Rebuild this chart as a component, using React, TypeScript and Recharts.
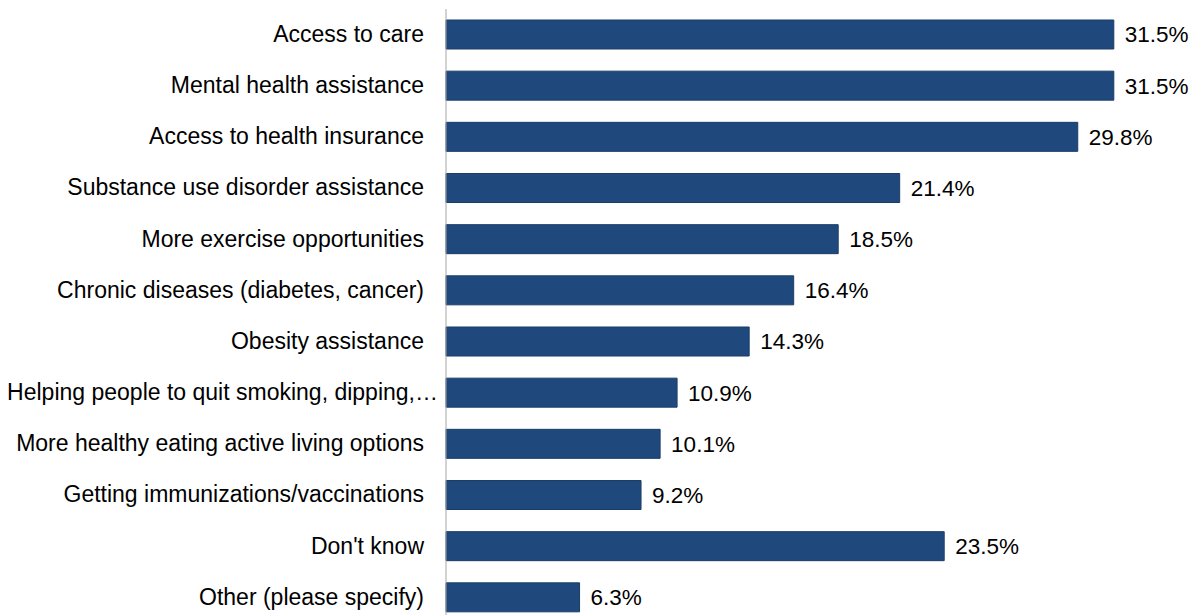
import { BarChart, Bar, XAxis, YAxis, LabelList } from "recharts";

const categories = [
  "Access to care",
  "Mental health assistance",
  "Access to health insurance",
  "Substance use disorder assistance",
  "More exercise opportunities",
  "Chronic diseases (diabetes, cancer)",
  "Obesity assistance",
  "Helping people to quit smoking, dipping,…",
  "More healthy eating active living options",
  "Getting immunizations/vaccinations",
  "Don't know",
  "Other (please specify)",
];

const percents = [31.5, 31.5, 29.8, 21.4, 18.5, 16.4, 14.3, 10.9, 10.1, 9.2, 23.5, 6.3];

const data = categories.map((name, i) => ({ name, value: percents[i] }));

const FONT = "'Liberation Sans', Arial, sans-serif";

// truncated labels run right up to the axis line, like the original export
function CategoryTick({ x, y, payload }: { x?: number; y?: number; payload?: { value: string } }) {
  const label = payload?.value ?? "";
  const gap = label.endsWith("…") ? 0 : 14;
  return (
    <text
      x={(x ?? 0) - gap}
      y={(y ?? 0) - 1}
      dy="0.36em"
      textAnchor="end"
      fontSize={23}
      fontFamily={FONT}
      fill="#000"
    >
      {label}
    </text>
  );
}

export default function App() {
  return (
    <div
      style={{
        position: "fixed",
        top: 0,
        left: 0,
        width: 1204,
        height: 615,
        overflow: "hidden",
        background: "#fff",
      }}
    >
      <BarChart
        width={1204}
        height={630}
        data={data}
        layout="vertical"
        margin={{ top: 9, right: 16, bottom: 7, left: 0 }}
      >
        <XAxis type="number" domain={[0, 35]} hide />
        <YAxis
          type="category"
          dataKey="name"
          width={446}
          axisLine={{ stroke: "#a6a6a6", strokeWidth: 1 }}
          tickLine={false}
          tick={<CategoryTick />}
          interval={0}
        />
        <Bar
          dataKey="value"
          fill="#1f497d"
          stroke="#1a3d68"
          strokeWidth={1}
          barSize={29}
          isAnimationActive={false}
        >
          <LabelList
            dataKey="value"
            position="right"
            offset={11}
            formatter={(v: number) => `${v.toFixed(1)}%`}
            style={{ fontSize: 22.5, fontFamily: FONT, fill: "#000" }}
          />
        </Bar>
      </BarChart>
    </div>
  );
}
